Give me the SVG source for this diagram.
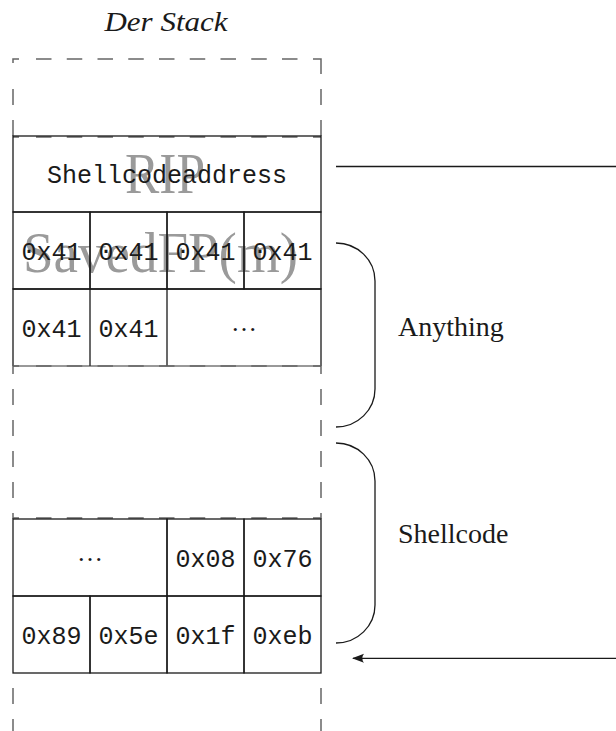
<svg xmlns="http://www.w3.org/2000/svg" width="616" height="731" viewBox="0 0 616 731">
<defs>
<style>
.cell{fill:none;stroke:#1a1a1a;stroke-width:1.3}
.dash{fill:none;stroke:#666;stroke-width:1.5}
.hd{stroke-dasharray:15.5 15.25}
.vd{stroke-dasharray:16 15}
.mono{font-family:"Liberation Mono",monospace;font-size:25px;fill:#1a1a1a;text-anchor:middle}
.dots{font-family:"Liberation Serif",serif;font-size:26px;fill:#1a1a1a;text-anchor:middle}
.ghost{font-family:"Liberation Serif",serif;font-size:56px;fill:#9a9a9a}
.lbl{font-family:"Liberation Serif",serif;font-size:28px;fill:#1a1a1a}
.conn{fill:none;stroke:#1a1a1a;stroke-width:1.3}
</style>
<marker id="ah" viewBox="0 0 12 10" refX="11" refY="5" markerWidth="12" markerHeight="10" markerUnits="userSpaceOnUse" orient="auto">
<path d="M12,5 L0,0.5 Q3.5,5 0,9.5 Z" fill="#1a1a1a"/>
</marker>
</defs>
<rect width="616" height="731" fill="#fff"/>
<text x="166" y="31" font-family="Liberation Serif, serif" font-style="italic" font-size="27" text-anchor="middle" textLength="123" lengthAdjust="spacingAndGlyphs" fill="#1a1a1a">Der Stack</text>

<g id="frame">
<path class="dash" d="M13,63 V59 H19 M313,59 H321 V74"/>
<line class="dash hd" x1="36" y1="59" x2="300" y2="59"/>
<line class="dash vd" x1="13" y1="89" x2="13" y2="136"/>
<line class="dash vd" x1="321" y1="89" x2="321" y2="136"/>
<path class="dash" d="M13,137 H19 M313,137 H321"/>
<line class="dash hd" x1="36" y1="137" x2="300" y2="137"/>
<line class="dash vd" x1="13" y1="366" x2="13" y2="519" stroke-dashoffset="8"/>
<line class="dash vd" x1="321" y1="366" x2="321" y2="519" stroke-dashoffset="8"/>
<line class="dash vd" x1="13" y1="673" x2="13" y2="731" stroke-dashoffset="16"/>
<line class="dash vd" x1="321" y1="673" x2="321" y2="731" stroke-dashoffset="16"/>
</g>

<g id="rip">
<text class="ghost" x="125" y="193" textLength="80" lengthAdjust="spacingAndGlyphs">RIP</text>
<rect class="cell" x="13" y="136" width="308" height="76"/>
<text class="mono" x="167" y="183">Shellcodeaddress</text>
</g>

<g id="savedfp">
<text class="ghost" x="23" y="272" textLength="275" lengthAdjust="spacingAndGlyphs">SavedFP(m)</text>
<rect class="cell" x="13" y="212" width="77" height="77"/>
<rect class="cell" x="90" y="212" width="77" height="77"/>
<rect class="cell" x="167" y="212" width="77" height="77"/>
<rect class="cell" x="244" y="212" width="77" height="77"/>
<text class="mono" x="51.5" y="259.5">0x41</text>
<text class="mono" x="128.5" y="259.5">0x41</text>
<text class="mono" x="205.5" y="259.5">0x41</text>
<text class="mono" x="282.5" y="259.5">0x41</text>
</g>

<g id="row3">
<path class="cell" d="M13,366 V289 H321 V366 M90,289 V366 M167,289 V366"/>
<line x1="13" y1="366" x2="321" y2="366" stroke="#333" stroke-width="1"/>
<text class="mono" x="51.5" y="337">0x41</text>
<text class="mono" x="128.5" y="337">0x41</text>
<text class="dots" x="244" y="331">…</text>
</g>
<g id="frame-mid">
<path class="dash" d="M13,366 H19 M313,366 H321"/>
<line class="dash hd" x1="36" y1="366" x2="300" y2="366"/>
<path class="dash" d="M13,518 H19 M313,518 H321"/>
<line class="dash hd" x1="36" y1="518" x2="300" y2="518"/>
</g>

<g id="row4">
<rect class="cell" x="13" y="519" width="154" height="77"/>
<rect class="cell" x="167" y="519" width="77" height="77"/>
<rect class="cell" x="244" y="519" width="77" height="77"/>
<text class="dots" x="90" y="561">…</text>
<text class="mono" x="205.5" y="567">0x08</text>
<text class="mono" x="282.5" y="567">0x76</text>
</g>

<g id="row5">
<rect class="cell" x="13" y="596" width="77" height="77"/>
<rect class="cell" x="90" y="596" width="77" height="77"/>
<rect class="cell" x="167" y="596" width="77" height="77"/>
<rect class="cell" x="244" y="596" width="77" height="77"/>
<text class="mono" x="51.5" y="643.5">0x89</text>
<text class="mono" x="128.5" y="643.5">0x5e</text>
<text class="mono" x="205.5" y="643.5">0x1f</text>
<text class="mono" x="282.5" y="643.5">0xeb</text>
</g>

<g id="anything">
<path class="conn" d="M336,243 A39,38 0 0 1 375,281 V389 A39,38 0 0 1 336,427"/>
<text class="lbl" x="398" y="336">Anything</text>
</g>

<g id="shellcode">
<path class="conn" d="M336,443 A39,38 0 0 1 375,481 V605 A39,38 0 0 1 336,643"/>
<text class="lbl" x="398" y="543">Shellcode</text>
</g>

<g id="connectors">
<line class="conn" x1="336" y1="166.5" x2="616" y2="166.5"/>
<line class="conn" x1="616" y1="658.3" x2="353" y2="658.3" marker-end="url(#ah)"/>
</g>
</svg>
